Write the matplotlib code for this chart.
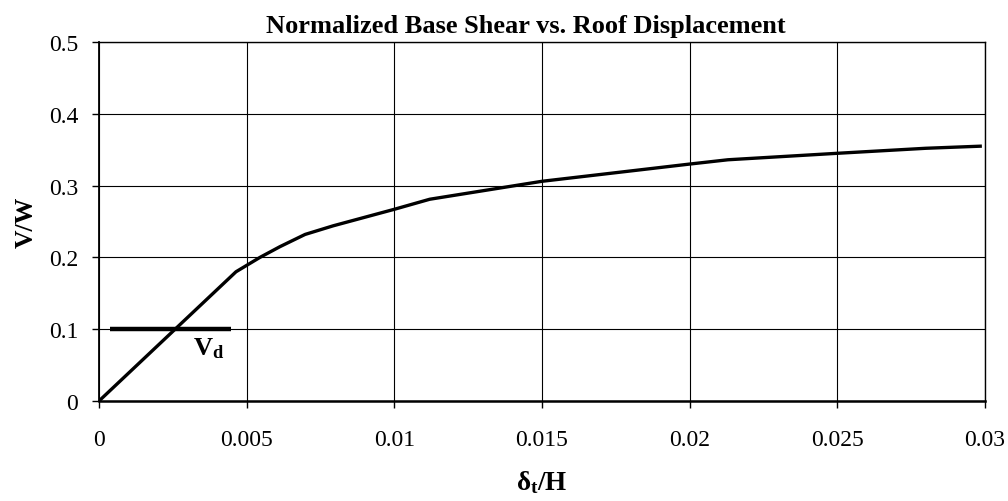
#!/usr/bin/python3

import matplotlib
matplotlib.use("Agg")
import matplotlib.pyplot as plt
from matplotlib.ticker import FuncFormatter

# pushover curve
drift = [0, 0.00464, 0.00545, 0.00613, 0.00698, 0.00793, 0.01, 0.0112,
         0.015, 0.02, 0.0213, 0.025, 0.028, 0.0299]
shear = [0, 0.180, 0.200, 0.215, 0.232, 0.244, 0.267, 0.281,
         0.306, 0.330, 0.336, 0.345, 0.352, 0.355]

# design base shear marker
vd_x = [0.00037, 0.00447]
vd_y = [0.1, 0.1]

x_ticks = [0, 0.005, 0.01, 0.015, 0.02, 0.025, 0.03]
y_ticks = [0, 0.1, 0.2, 0.3, 0.4, 0.5]


def tick_fmt(v, pos=None):
    if abs(v) < 1e-12:
        return "0"
    return f"{v:g}"


def main():
    plt.rcParams["font.family"] = ["Liberation Serif", "DejaVu Serif"]
    plt.rcParams["mathtext.fontset"] = "custom"
    plt.rcParams["mathtext.rm"] = "Liberation Serif"
    plt.rcParams["mathtext.bf"] = "Liberation Serif:bold"
    plt.rcParams["mathtext.it"] = "Liberation Serif:italic"

    fig = plt.figure(figsize=(10.08, 5.02), dpi=100)
    ax = fig.add_axes([0.0982, 0.1992, 0.8788, 0.7151])

    ax.plot(drift, shear, color="black", lw=2.4, solid_capstyle="butt")
    ax.plot(vd_x, vd_y, color="black", lw=3.2, solid_capstyle="butt")
    ax.text(0.00318, 0.091, r"$\mathbf{V_d}$", fontsize=19, ha="left", va="top")

    ax.set_xlim(0, 0.03)
    ax.set_ylim(0, 0.5)
    ax.set_xticks(x_ticks)
    ax.set_yticks(y_ticks)
    ax.xaxis.set_major_formatter(FuncFormatter(tick_fmt))
    ax.yaxis.set_major_formatter(FuncFormatter(tick_fmt))
    ax.tick_params(direction="out", length=5, width=1, labelsize=17,
                   colors="black")
    ax.tick_params(axis="y", pad=10)
    ax.tick_params(axis="x", pad=15)
    ax.grid(True, color="black", lw=0.8)

    for side in ["top", "right"]:
        ax.spines[side].set_linewidth(1.0)
    ax.spines["left"].set_linewidth(1.3)
    ax.spines["bottom"].set_linewidth(1.8)

    ax.set_title("Normalized Base Shear vs. Roof Displacement",
                 fontsize=19, fontweight="bold", pad=7, x=0.482)
    ax.set_ylabel("V/W", fontsize=18.5, fontweight="bold", labelpad=8)
    ax.set_xlabel(r"$\mathbf{\delta_t}$/H", fontsize=19.5, fontweight="bold",
                  labelpad=13)

    plt.savefig("out.png", dpi=100)


if __name__ == "__main__":
    main()
